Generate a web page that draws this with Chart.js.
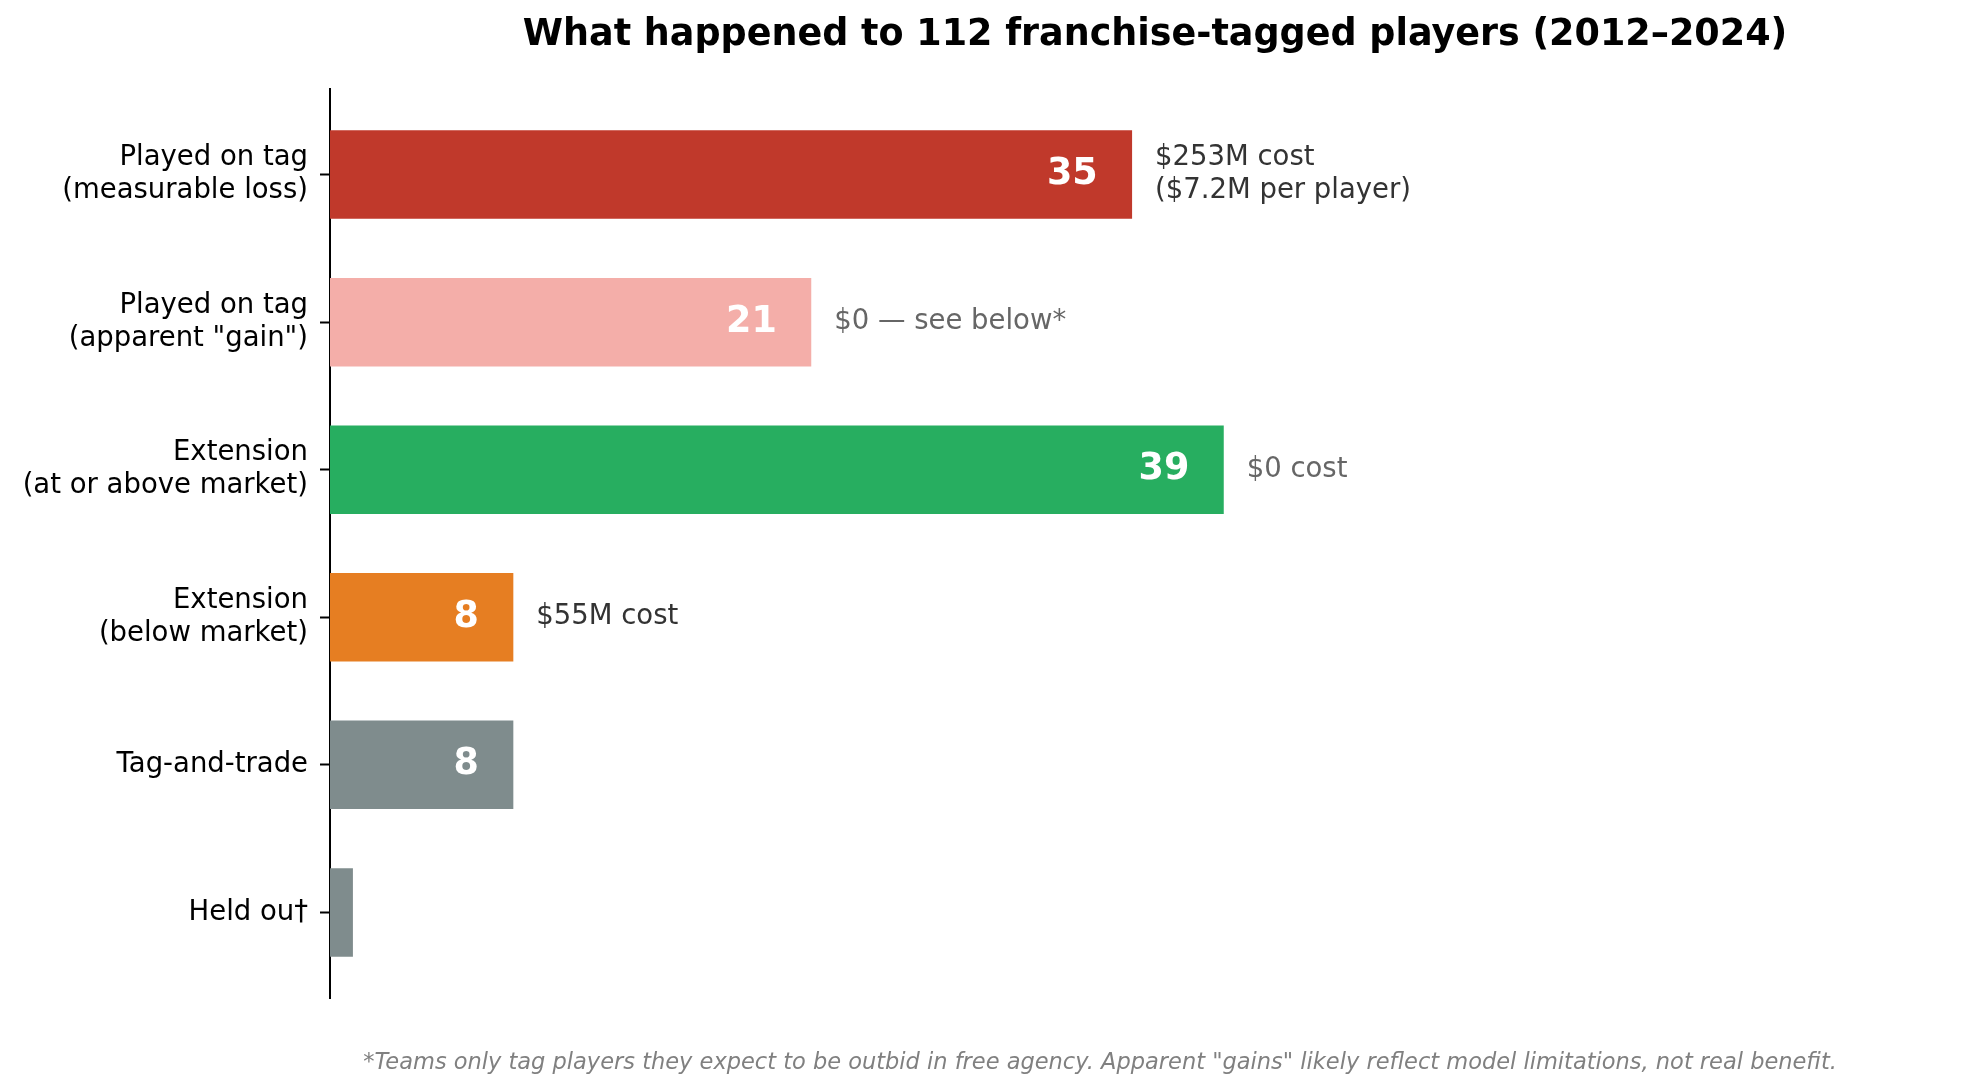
<!DOCTYPE html>
<html>
<head>
<meta charset="utf-8">
<script src="https://cdn.jsdelivr.net/npm/chart.js@4/dist/chart.umd.min.js"></script>
<style>
  html, body { margin: 0; padding: 0; background: #fff; }
  #wrap { width: 1980px; height: 1084px; }
</style>
</head>
<body>
<div id="wrap"><canvas id="tagChart" width="1980" height="1084"></canvas></div>
<script>
// outcome categories, top to bottom
const categories = [
    ['Played on tag', '(measurable loss)'],
    ['Played on tag', '(apparent "gain")'],
    ['Extension', '(at or above market)'],
    ['Extension', '(below market)'],
    'Tag-and-trade',
    'Held ou\u2020'
];
const playerCounts = [35, 21, 39, 8, 8, 1];
const costNotes = [
    ['$253M cost', '($7.2M per player)'],
    ['$0 \u2014 see below*'],
    ['$0 cost'],
    ['$55M cost'],
    [],
    []
];
const barColors = ['#c0392b', '#f4aea9', '#27ae60', '#e67e22', '#7f8c8d', '#7f8c8d'];
const noteColors = ['#333333', '#666666', '#666666', '#333333', '#333333', '#333333'];

const titleText = 'What happened to 112 franchise-tagged players (2012\u20132024)';
const footText = '*Teams only tag players they expect to be outbid in free agency. Apparent "gains" likely reflect model limitations, not real benefit.';

const FONT = "'DejaVu Sans', sans-serif";
Chart.defaults.font.family = FONT;

// value inside bar + cost note to the right, plus title and footnote
const barText = {
    id: 'barText',
    afterDatasetsDraw(chart) {
        const { ctx, scales: { x, y }, chartArea } = chart;
        ctx.save();
        ctx.textBaseline = 'middle';
        playerCounts.forEach((v, i) => {
            const yc = y.getPixelForValue(i);
            if (v > 2) {
                ctx.font = 'bold 36.5px ' + FONT;
                ctx.fillStyle = '#ffffff';
                ctx.textAlign = 'right';
                ctx.fillText(String(v), x.getPixelForValue(v - 1.5), yc);
            }
            const lines = costNotes[i];
            if (lines.length) {
                ctx.font = '27.5px ' + FONT;
                ctx.fillStyle = noteColors[i];
                ctx.textAlign = 'left';
                const lh = 33;
                const start = yc - (lines.length - 1) * lh / 2;
                lines.forEach((t, k) => ctx.fillText(t, x.getPixelForValue(v + 1), start + k * lh));
            }
        });

        ctx.fillStyle = '#000000';
        ctx.textAlign = 'center';
        ctx.font = 'bold 36.5px ' + FONT;
        ctx.fillText(titleText, (chartArea.left + chartArea.right) / 2, 36);

        ctx.fillStyle = '#808080';
        ctx.font = 'italic 22.5px ' + FONT;
        ctx.fillText(footText, 1100, 1063);
        ctx.restore();
    }
};

new Chart(document.getElementById('tagChart'), {
    type: 'bar',
    data: {
        datasets: [{
            data: playerCounts.map((v, i) => ({ x: v, y: i })),
            backgroundColor: barColors,
            borderWidth: 0,
            barPercentage: 0.6,
            categoryPercentage: 1.0
        }]
    },
    options: {
        indexAxis: 'y',
        responsive: false,
        animation: false,
        devicePixelRatio: 1,
        layout: { padding: { top: 89, bottom: 86, left: 0, right: 0 } },
        plugins: {
            legend: { display: false },
            tooltip: { enabled: false }
        },
        scales: {
            x: {
                type: 'linear',
                display: false,
                min: 0,
                max: 72
            },
            y: {
                type: 'linear',
                reverse: true,
                offset: false,
                min: -0.58,
                max: 5.58,
                afterBuildTicks: (scale) => {
                    scale.ticks = categories.map((c, i) => ({ value: i }));
                },
                afterFit: (scale) => { scale.width = 330; },
                ticks: {
                    autoSkip: false,
                    padding: 12,
                    color: '#000000',
                    font: { size: 27.5, lineHeight: 1.2 },
                    callback: (value) => categories[value]
                },
                grid: {
                    offset: false,
                    drawOnChartArea: false,
                    drawTicks: true,
                    tickLength: 10,
                    tickColor: '#000000',
                    tickWidth: 2
                },
                border: { display: true, color: '#000000', width: 2 }
            }
        }
    },
    plugins: [barText]
});
</script>
</body>
</html>
